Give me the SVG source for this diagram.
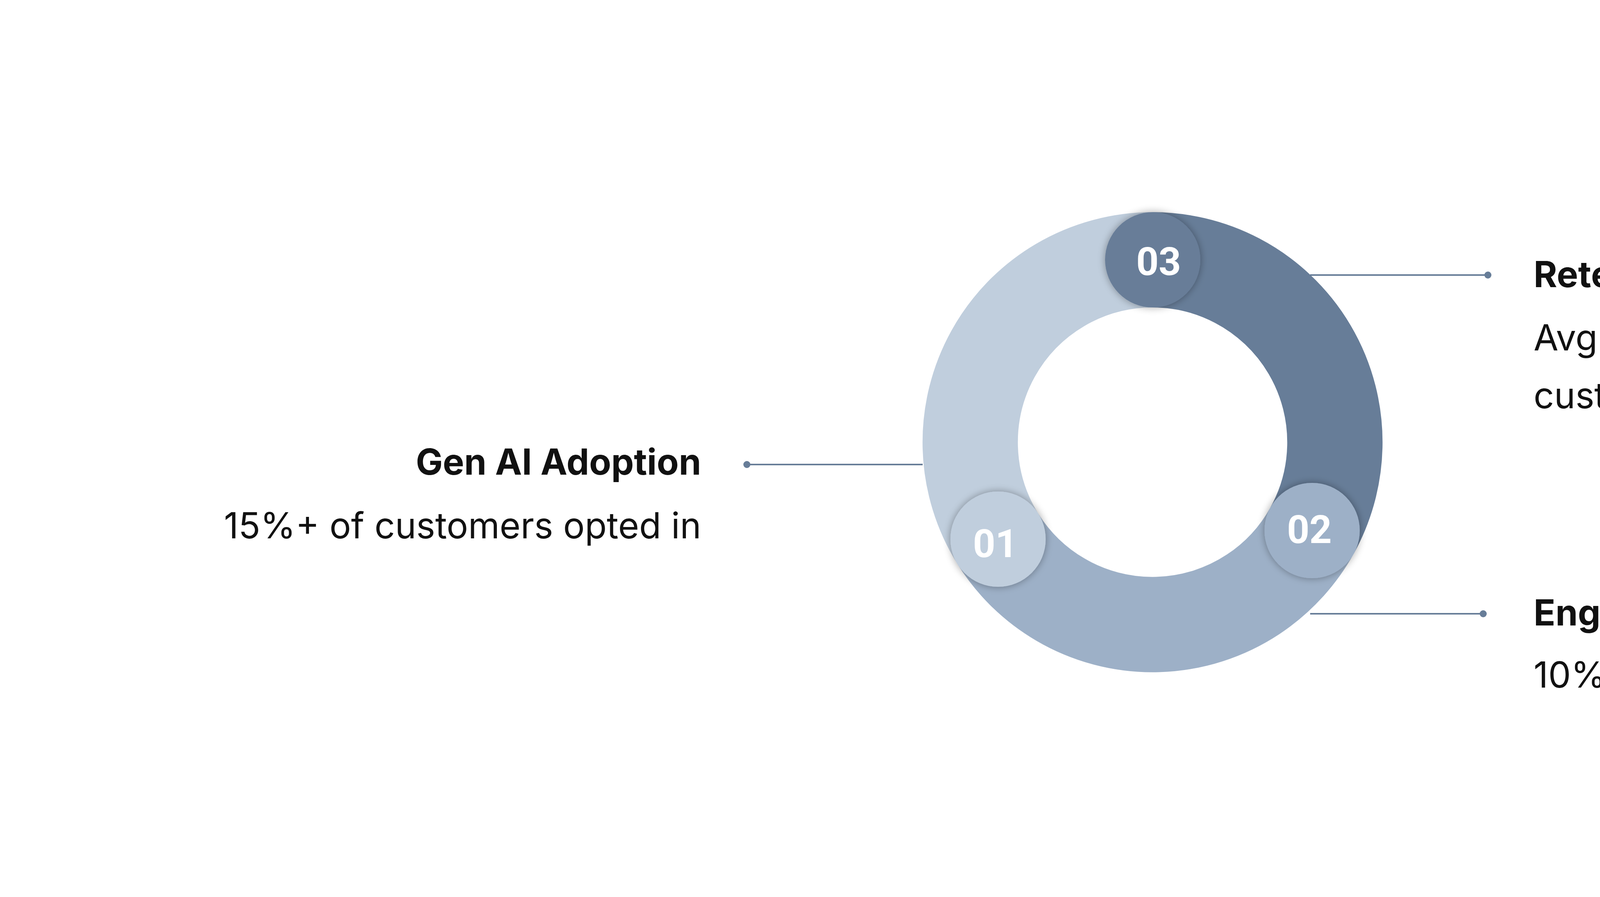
<svg xmlns="http://www.w3.org/2000/svg" width="5936" height="2296" viewBox="0 0 5936 2296">
<style>
.seg{fill:none;stroke-width:244}
.num{font-family:Roboto,"Liberation Sans",sans-serif;font-weight:700;font-size:100px;fill:#fff;text-anchor:middle}
.t{font-family:Inter,"Liberation Sans",sans-serif;font-size:92px;fill:#111}
.b{font-weight:700}
.ln{stroke:#677d98;stroke-width:4}
.dot{fill:#677d98}
</style>
<defs>
<filter id="sh" x="-30%" y="-30%" width="160%" height="160%"><feGaussianBlur in="SourceAlpha" stdDeviation="10"/><feOffset dx="0" dy="0"/><feComponentTransfer><feFuncA type="linear" slope="0.35"/></feComponentTransfer><feMerge><feMergeNode/><feMergeNode in="SourceGraphic"/></feMerge></filter>
</defs>
<rect width="5936" height="2296" fill="#fff"/>
<g id="connectors">
<line class="ln" x1="1912" y1="1189" x2="2362" y2="1189"/><circle class="dot" cx="1912" cy="1189" r="9"/>
<line class="ln" x1="3354" y1="704" x2="3809" y2="704"/><circle class="dot" cx="3809" cy="704" r="9"/>
<line class="ln" x1="3354" y1="1571" x2="3797" y2="1571"/><circle class="dot" cx="3797" cy="1571" r="9"/>
</g>
<g id="ring">
<path class="seg" stroke="#677d98" d="M2951 665 A467 467 0 0 1 3359 1358"/>
<path class="seg" stroke="#9db0c7" d="M3359 1358 A467 467 0 0 1 2555 1380"/>
<path class="seg" stroke="#c0cedd" d="M2555 1380 A467 467 0 0 1 2951 665"/>
</g>
<g id="n03"><circle cx="2951" cy="665" r="122" fill="#677d98" filter="url(#sh)"/><text class="num" x="2966" y="704">03</text></g>
<g id="n02"><circle cx="3359" cy="1358" r="122" fill="#9db0c7" filter="url(#sh)"/><text class="num" x="3352" y="1390">02</text></g>
<g id="n01"><circle cx="2555" cy="1380" r="122" fill="#c0cedd" filter="url(#sh)"/><text class="num" x="2548" y="1426">01</text></g>
<g id="adoption"><text class="t b" x="1795" y="1215" text-anchor="end">Gen AI Adoption</text><text class="t" x="1795" y="1378" text-anchor="end">15%+ of customers opted in</text></g>
<g id="retention"><text class="t b" x="3926" y="735">Retention</text><text class="t" x="3926" y="897">Avg. 5+ Copilot uses/month per</text><text class="t" x="3926" y="1045">customer</text></g>
<g id="engagement"><text class="t b" x="3926" y="1601">Engagement</text><text class="t" x="3926" y="1760">10% of Gen AI assisted content</text></g>
</svg>
